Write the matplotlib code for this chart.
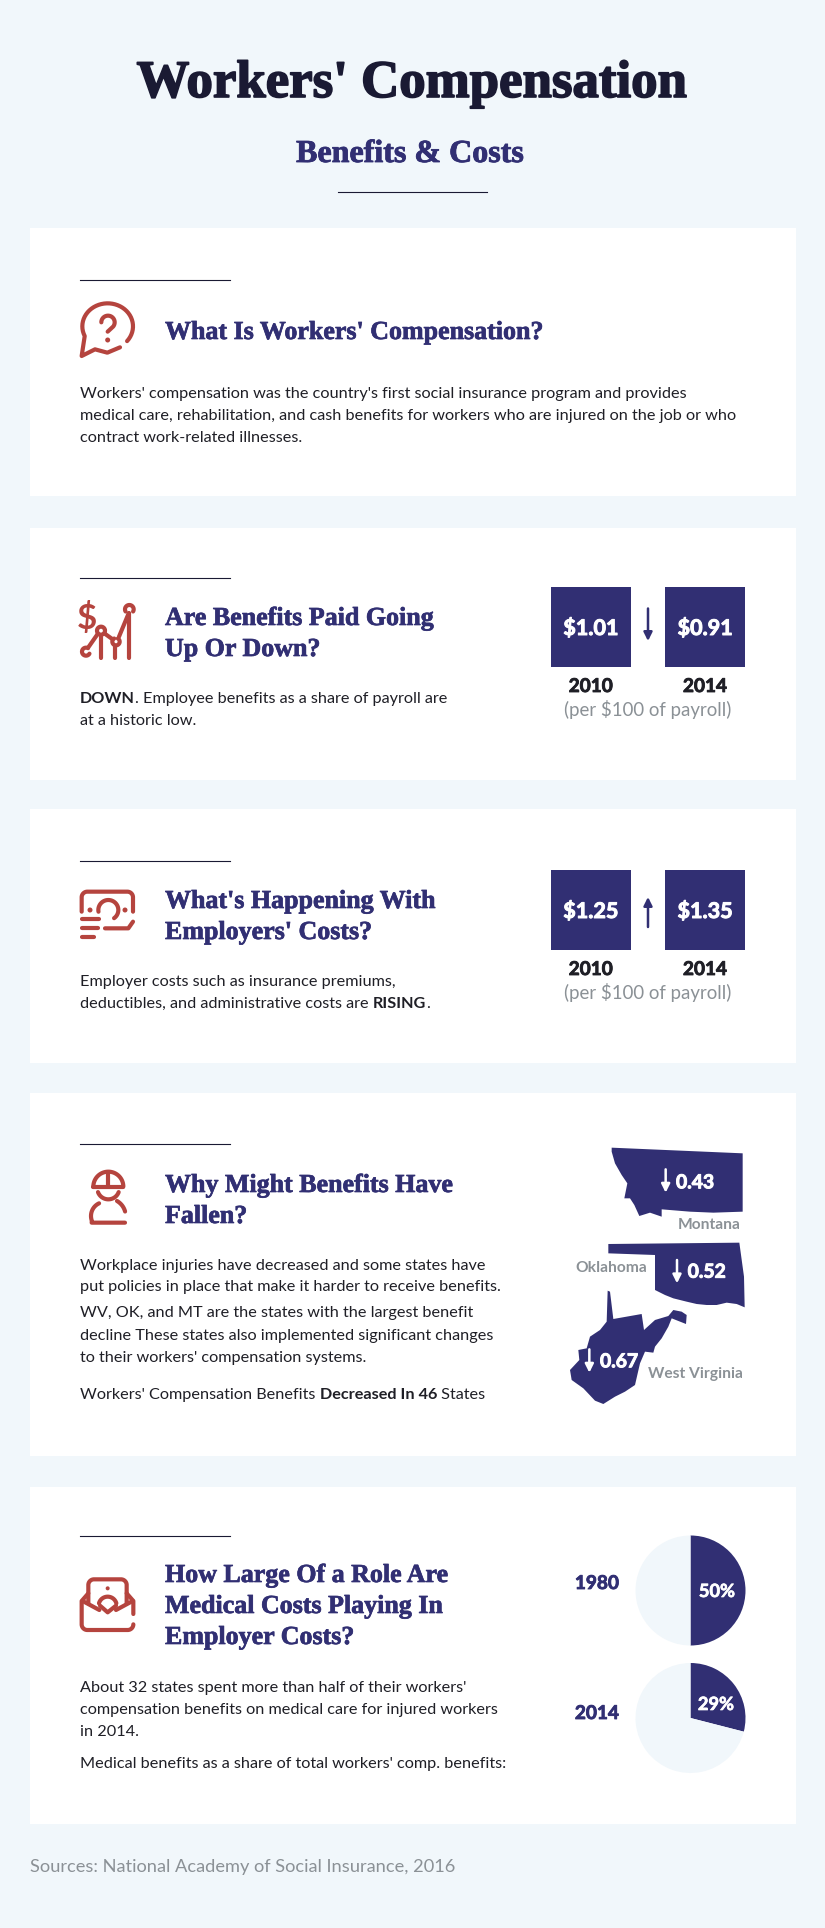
import numpy as np
import matplotlib
matplotlib.use("Agg")
import matplotlib.pyplot as plt
import matplotlib.patheffects as pe
from matplotlib.patches import Rectangle, Polygon, Circle

W, H = 825, 1928
BG = "#F1F7FB"; NAVY = "#312F73"; INK = "#1A1A33"; RED = "#B5443E"; GRAY = "#8B9196"; TXT = "#1F1F26"
SERIF = dict(family="Liberation Serif", weight="bold")
SANS = dict(family="Lato")

# ---------- data ----------
benefit_years = ["2010", "2014"]
benefit_values = ["$1.01", "$0.91"]
cost_years = ["2010", "2014"]
cost_values = ["$1.25", "$1.35"]
state_names = ["Montana", "Oklahoma", "West Virginia"]
state_declines = ["0.43", "0.52", "0.67"]
pie_years = ["1980", "2014"]
pie_shares = [50, 29]
per_label = "(per $100 of payroll)"

fig = plt.figure(figsize=(W / 100, H / 100), dpi=100, facecolor=BG)
ax = fig.add_axes([0, 0, 1, 1])
ax.set_xlim(0, W); ax.set_ylim(H, 0); ax.axis("off")
renderer = fig.canvas.get_renderer()


def width(s, size, font):
    t = ax.text(0, 0, s + "|", fontsize=size, **font)
    a = t.get_window_extent(renderer).width
    t.set_text("|")
    b = t.get_window_extent(renderer).width
    t.remove()
    return a - b


def fit(s, px, font):
    return 30 * px / width(s, 30, font)


def put(x, y, s, size, font, color=TXT, ha="left", z=5, heavy=0):
    t = ax.text(x, y, s, fontsize=size, color=color, ha=ha, va="baseline", zorder=z, **font)
    if heavy:
        t.set_path_effects([pe.withStroke(linewidth=heavy, foreground=color)])
    return t


def runs(x, y, parts, size):
    for s, bold in parts:
        font = dict(SANS, weight="bold") if bold else SANS
        put(x, y, s, size, font)
        x += width(s, size, font)


S_TITLE = fit("Workers' Compensation", 550, SERIF)
S_SUB = fit("Benefits & Costs", 227, SERIF)
S_HEAD = fit("What Is Workers' Compensation?", 378, SERIF)
S_BODY = fit("Workers' compensation was the country's first social insurance program and provides", 607, SANS)
S_SRC = fit("Sources: National Academy of Social Insurance, 2016", 426, SANS)
BOLD = dict(SANS, weight="bold")
S_VAL = fit("$1.01", 55, BOLD)
S_YEAR = fit("2010", 44, BOLD)
S_PER = fit(per_label, 167, SANS)
S_STATE = fit("0.43", 38, BOLD)
S_NAME = fit("Montana", 63, BOLD)
S_PIE = fit("50%", 36, BOLD)

# ---------- header ----------
put(412, 97, "Workers' Compensation", S_TITLE, SERIF, INK, "center", heavy=1.2)
put(410, 162, "Benefits & Costs", S_SUB, SERIF, NAVY, "center", heavy=0.6)
ax.plot([338, 487], [191.5, 191.5], color=INK, lw=0.8, zorder=5)

# ---------- cards ----------
cards = [(228, 496), (528, 780), (809, 1063), (1093, 1456), (1487, 1824)]
for top, bottom in cards:
    ax.add_patch(Rectangle((30, top), 766, bottom - top, fc="white", ec="none", zorder=1))
for y in [279.5, 577.5, 860.5, 1143.5, 1535.5]:
    ax.plot([80, 230], [y, y], color=INK, lw=0.8, zorder=5)

# headings
for y, s in [(339, "What Is Workers' Compensation?"),
             (625, "Are Benefits Paid Going"), (656, "Up Or Down?"),
             (908, "What's Happening With"), (939, "Employers' Costs?"),
             (1192, "Why Might Benefits Have"), (1223, "Fallen?"),
             (1582, "How Large Of a Role Are"), (1613, "Medical Costs Playing In"), (1644, "Employer Costs?")]:
    put(165, y, s, S_HEAD, SERIF, NAVY, heavy=0.5)

# body text
for y, s in [(398, "Workers' compensation was the country's first social insurance program and provides"),
             (420, "medical care, rehabilitation, and cash benefits for workers who are injured on the job or who"),
             (442, "contract work-related illnesses."),
             (725, "at a historic low."),
             (986, "Employer costs such as insurance premiums,"),
             (1270, "Workplace injuries have decreased and some states have"),
             (1291, "put policies in place that make it harder to receive benefits."),
             (1317.5, "WV, OK, and MT are the states with the largest benefit"),
             (1340, "decline These states also implemented significant changes"),
             (1362, "to their workers' compensation systems."),
             (1692, "About 32 states spent more than half of their workers'"),
             (1714, "compensation benefits on medical care for injured workers"),
             (1736, "in 2014."),
             (1768, "Medical benefits as a share of total workers' comp. benefits:")]:
    put(80, y, s, S_BODY, SANS)
runs(80, 703, [("DOWN", True), (". Employee benefits as a share of payroll are", False)], S_BODY)
runs(80, 1008, [("deductibles, and administrative costs are ", False), ("RISING", True), (".", False)], S_BODY)
runs(80, 1399, [("Workers' Compensation Benefits ", False), ("Decreased In 46", True), (" States", False)], S_BODY)


# ---------- value boxes ----------
def arrow(x, y0, y1, color):
    ax.annotate("", xy=(x, y1), xytext=(x, y0), zorder=6,
                arrowprops=dict(arrowstyle="-|>,head_width=0.25,head_length=0.5", color=color, lw=1.8,
                                mutation_scale=10, shrinkA=0, shrinkB=0))


def panel(top, values, years, a0, a1, val_base, year_base, per_base):
    for x0, x1, v, yr in zip([551, 665], [630.5, 745], values, years):
        ax.add_patch(Rectangle((x0, top), x1 - x0, 80, fc=NAVY, ec="none", zorder=2))
        put((x0 + x1) / 2, val_base, v, S_VAL, BOLD, "white", "center", heavy=0.7)
        put((x0 + x1) / 2, year_base, yr, S_YEAR, BOLD, TXT, "center", heavy=0.6)
    arrow(648, a0, a1, NAVY)
    put(648, per_base, per_label, S_PER, SANS, GRAY, "center")


panel(587, benefit_values, benefit_years, 608.5, 641, 635, 692, 716)
panel(870, cost_values, cost_years, 927, 897, 918, 975, 999)

# ---------- states ----------
montana = [(215, 53), (608, 70), (608, 245), (520, 248), (450, 245), (365, 238), (365, 260), (330, 248), (298, 258),
           (283, 225), (270, 205), (253, 205), (262, 160), (245, 135), (225, 100), (215, 65)]
oklahoma = [(205, 342), (598, 338), (612, 440), (614, 532), (590, 522), (560, 518), (530, 525), (500, 525), (470, 522),
            (440, 515), (400, 505), (375, 495), (345, 480), (345, 375), (205, 370)]
wv = [(203, 482), (210, 485), (220, 567), (305, 552), (312, 600), (345, 570), (385, 558), (400, 540), (425, 545),
      (440, 555), (438, 582), (395, 565), (385, 590), (365, 625), (345, 650), (340, 668), (315, 665), (300, 700),
      (285, 765), (255, 785), (225, 800), (190, 822), (165, 812), (130, 775), (95, 750), (90, 720), (118, 690),
      (115, 660), (140, 655), (150, 620), (180, 600), (200, 575)]


def zx(u): return 540 + u / 3
def zy(v): return 1130 + v / 3


for shape in (montana, oklahoma, wv):
    ax.add_patch(Polygon([(zx(u), zy(v)) for u, v in shape], closed=True, fc=NAVY, ec="none", zorder=2))
for arrow_u, v0, v1, text_u, text_v, val in [(377, 118, 188, 408, 175, state_declines[0]),
                                             (411, 390, 460, 443, 443, state_declines[1]),
                                             (148, 658, 728, 180, 712, state_declines[2])]:
    arrow(zx(arrow_u), zy(v0), zy(v1), "white")
    put(zx(text_u), zy(text_v), val, S_STATE, BOLD, "white", heavy=0.7)
for text_u, text_v, name in [(412, 296, state_names[0]), (107, 425, state_names[1]), (325, 745, state_names[2])]:
    put(zx(text_u), zy(text_v), name, S_NAME, BOLD, GRAY)

# ---------- pies ----------
for (cy, share, yr, yr_base, lx, ly) in [(1590.5, pie_shares[0], pie_years[0], 1589, 717, 1597),
                                         (1718, pie_shares[1], pie_years[1], 1719, 716, 1710)]:
    r = 55
    pax = fig.add_axes([(690.5 - r) / W, 1 - (cy + r) / H, 2 * r / W, 2 * r / H])
    pax.pie([share, 100 - share], colors=[NAVY, BG], startangle=90, counterclock=False, radius=1.0,
            wedgeprops=dict(linewidth=0))
    pax.set_xlim(-1, 1); pax.set_ylim(-1, 1)
    put(619, yr_base, yr, S_YEAR, BOLD, NAVY, "right", heavy=0.6)
    lab = fig.text(lx / W, 1 - ly / H, f"{share}%", fontsize=S_PIE, color="white", ha="center", va="baseline",
                   zorder=10, **BOLD)
    lab.set_path_effects([pe.withStroke(linewidth=0.5, foreground="white")])


# ---------- footer ----------
put(30, 1872, "Sources: National Academy of Social Insurance, 2016", S_SRC, SANS, GRAY)


# ---------- icons ----------
def arc(cx, cy, r, a0, a1, n=40, ry=None):
    t = np.radians(np.linspace(a0, a1, n))
    return list(zip(cx + r * np.cos(t), cy - (ry or r) * np.sin(t)))


def stroke(ox, oy, pts):
    xs = [ox + p[0] / 3 for p in pts]
    ys = [oy + p[1] / 3 for p in pts]
    ax.plot(xs, ys, color=RED, lw=3.0, solid_capstyle="round", solid_joinstyle="round", zorder=5)


def dot(ox, oy, u, v, r=2.5):
    ax.add_patch(Circle((ox + u / 3, oy + v / 3), r, fc=RED, ec="none", zorder=5))


def ring(ox, oy, u, v, r):
    stroke(ox, oy, arc(u, v, r, 0, 360))


# question bubble
o = (70, 290)
stroke(*o, arc(113, 109, 76, -40, 205, ry=69) + [(35, 198), (75, 178), (112, 188), (150, 172)])
stroke(*o, arc(114, 97, 20, 180, -40) + [(113, 125)])
dot(*o, 113, 150)

# money chart
o = (70, 590)
ax.text(70 + 50 / 3, 590 + 85 / 3, "$", color=RED, fontsize=25, ha="center", va="center", zorder=5, **BOLD)
stroke(*o, [(55, 172), (83, 132)])
stroke(*o, [(103, 130), (128, 148)])
stroke(*o, [(147, 140), (176, 70)])
stroke(*o, arc(48, 185, 12, 60, 330))
ring(*o, 93, 122, 12)
stroke(*o, arc(138, 155, 11, 120, 420))
stroke(*o, arc(178, 58, 13, -30, 210))
for u, v in [(93, 135), (135, 168), (176, 70)]:
    stroke(*o, [(u, v), (u, 205)])

# banknote
o = (70, 880)
stroke(*o, [(35, 95)] + arc(52, 52, 17, 180, 90) + arc(172, 52, 17, 90, 0) + [(189, 95)])
stroke(*o, arc(115, 90, 30, 190, -55))
dot(*o, 60, 90); dot(*o, 165, 90)
stroke(*o, [(35, 118), (88, 118)])
stroke(*o, [(35, 145), (85, 145)])
stroke(*o, [(35, 172), (72, 172)])
stroke(*o, [(105, 145), (175, 145), (189, 125)])

# worker
o = (70, 1160)
stroke(*o, arc(115, 80, 45, 180, 0))
stroke(*o, [(70, 80), (160, 80)])
stroke(*o, [(114, 35), (114, 80)])
stroke(*o, arc(115, 85, 33, 200, 340))
stroke(*o, [(165, 188), (65, 188)] + arc(105, 168, 42, 200, 115))
stroke(*o, arc(115, 168, 52, 60, 15))

# envelope
o = (70, 1565)
stroke(*o, [(55, 115)] + arc(72, 60, 17, 180, 90) + arc(153, 60, 17, 90, 0) + [(170, 115)])
dot(*o, 113, 70, 2.0)
stroke(*o, [(55, 85), (35, 108)] + arc(52, 178, 17, 180, 270) + arc(173, 178, 17, 270, 360))
stroke(*o, [(170, 85), (190, 108), (190, 147)])
stroke(*o, [(38, 108), (88, 135)])
stroke(*o, [(188, 108), (138, 135)])
stroke(*o, arc(113, 122, 27, 165, 15))
stroke(*o, [(90, 122), (113, 142), (138, 122)])

fig.savefig("out.png", dpi=100, facecolor=BG)
